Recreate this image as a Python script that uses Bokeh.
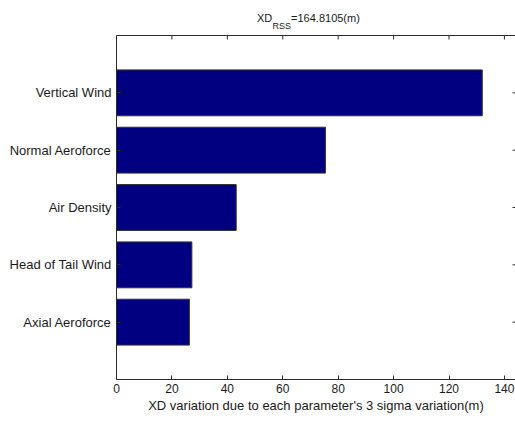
import math

from bokeh.plotting import figure
from bokeh.layouts import column
from bokeh.models import ColumnDataSource, FixedTicker, LinearAxis, Label, Range1d
from bokeh.embed import file_html
from bokeh.resources import INLINE

# Contribution of each parameter's 3-sigma variation to XD (m)
categories = ["Axial Aeroforce", "Head of Tail Wind", "Air Density",
              "Normal Aeroforce", "Vertical Wind"]
xd_variation = [26.3, 27.2, 43.2, 75.4, 132.0]
x_ticks = [0, 20, 40, 60, 80, 100, 120, 140]
rss_value = "164.8105"

positions = list(range(1, len(categories) + 1))
source = ColumnDataSource(data=dict(y=positions, right=xd_variation,
                                    name=categories))

FONT = "Liberation Sans"
TEXT = "#1a1a1a"
AXIS = "#2b2b2b"
W = 515
TITLE_H = 35
MAIN_H = 421 - TITLE_H
X_MAX = 144
Y_MAX = len(categories) + 1

x_range = Range1d(0, X_MAX)

# ---- main bar chart ----
p = figure(width=W, height=MAIN_H, output_backend="svg", toolbar_location=None,
           x_range=x_range, y_range=Range1d(0, Y_MAX),
           x_axis_location=None, y_axis_location=None,
           min_border_left=116, min_border_right=0,
           min_border_top=0, min_border_bottom=42)
p.outline_line_color = None
p.xgrid.visible = False
p.ygrid.visible = False

p.hbar(y="y", left=0, right="right", height=0.8, source=source,
       fill_color="#000080", line_color="#303030", line_width=1)


def style(axis):
    axis.major_tick_in = 4
    axis.major_tick_out = 0
    axis.minor_tick_in = 0
    axis.minor_tick_out = 0
    axis.major_tick_line_color = AXIS
    axis.axis_line_color = AXIS
    axis.major_label_text_font = FONT
    axis.major_label_text_color = TEXT


bottom = LinearAxis(ticker=FixedTicker(ticks=x_ticks),
                    axis_label="XD variation due to each parameter's 3 sigma variation(m)")
style(bottom)
bottom.major_label_text_font_size = "12px"
bottom.major_label_standoff = 4
bottom.axis_label_standoff = 2
bottom.axis_label_text_font = FONT
bottom.axis_label_text_font_style = "normal"
bottom.axis_label_text_font_size = "13px"
bottom.axis_label_text_color = TEXT
p.add_layout(bottom, "below")

left = LinearAxis(ticker=FixedTicker(ticks=positions),
                  major_label_overrides={pos: name for pos, name in zip(positions, categories)})
style(left)
left.major_label_text_font_size = "13px"
left.major_label_standoff = 5
p.add_layout(left, "left")

# top border line of the axes box
top = LinearAxis(ticker=FixedTicker(ticks=[]))
top.axis_line_color = AXIS
top.major_tick_in = 0
top.major_tick_out = 0
top.major_label_standoff = 0
p.add_layout(top, "above")

# inward ticks along the top and right edges
p.ray(x=x_ticks, y=[Y_MAX] * len(x_ticks), length=4, length_units="screen",
      angle=-math.pi / 2, line_color=AXIS, line_width=1)
p.ray(x=[X_MAX] * len(positions), y=positions, length=3, length_units="screen",
      angle=math.pi, line_color=AXIS, line_width=1)

# ---- title strip above the axes: XD with subscript RSS ----
# shares the x scale of the chart, so positions are in chart units
t = figure(width=W, height=TITLE_H, output_backend="svg", toolbar_location=None,
           x_range=x_range, y_range=Range1d(0, TITLE_H),
           x_axis_location=None, y_axis_location=None,
           min_border_left=116, min_border_right=0,
           min_border_top=0, min_border_bottom=0)
t.outline_line_color = None
t.xgrid.visible = False
t.ygrid.visible = False
t.add_layout(Label(x=50.7, y=18, text="XD", text_font=FONT,
                   text_font_size="11px", text_color=TEXT,
                   text_baseline="alphabetic"))
t.add_layout(Label(x=56.3, y=10, text="RSS", text_font=FONT,
                   text_font_size="9px", text_color=TEXT,
                   text_baseline="alphabetic"))
t.add_layout(Label(x=63.0, y=18, text="=" + rss_value + "(m)", text_font=FONT,
                   text_font_size="11px", text_color=TEXT,
                   text_baseline="alphabetic"))

layout = column(t, p, spacing=0)
open("out.html", "w").write(file_html(layout, INLINE))
